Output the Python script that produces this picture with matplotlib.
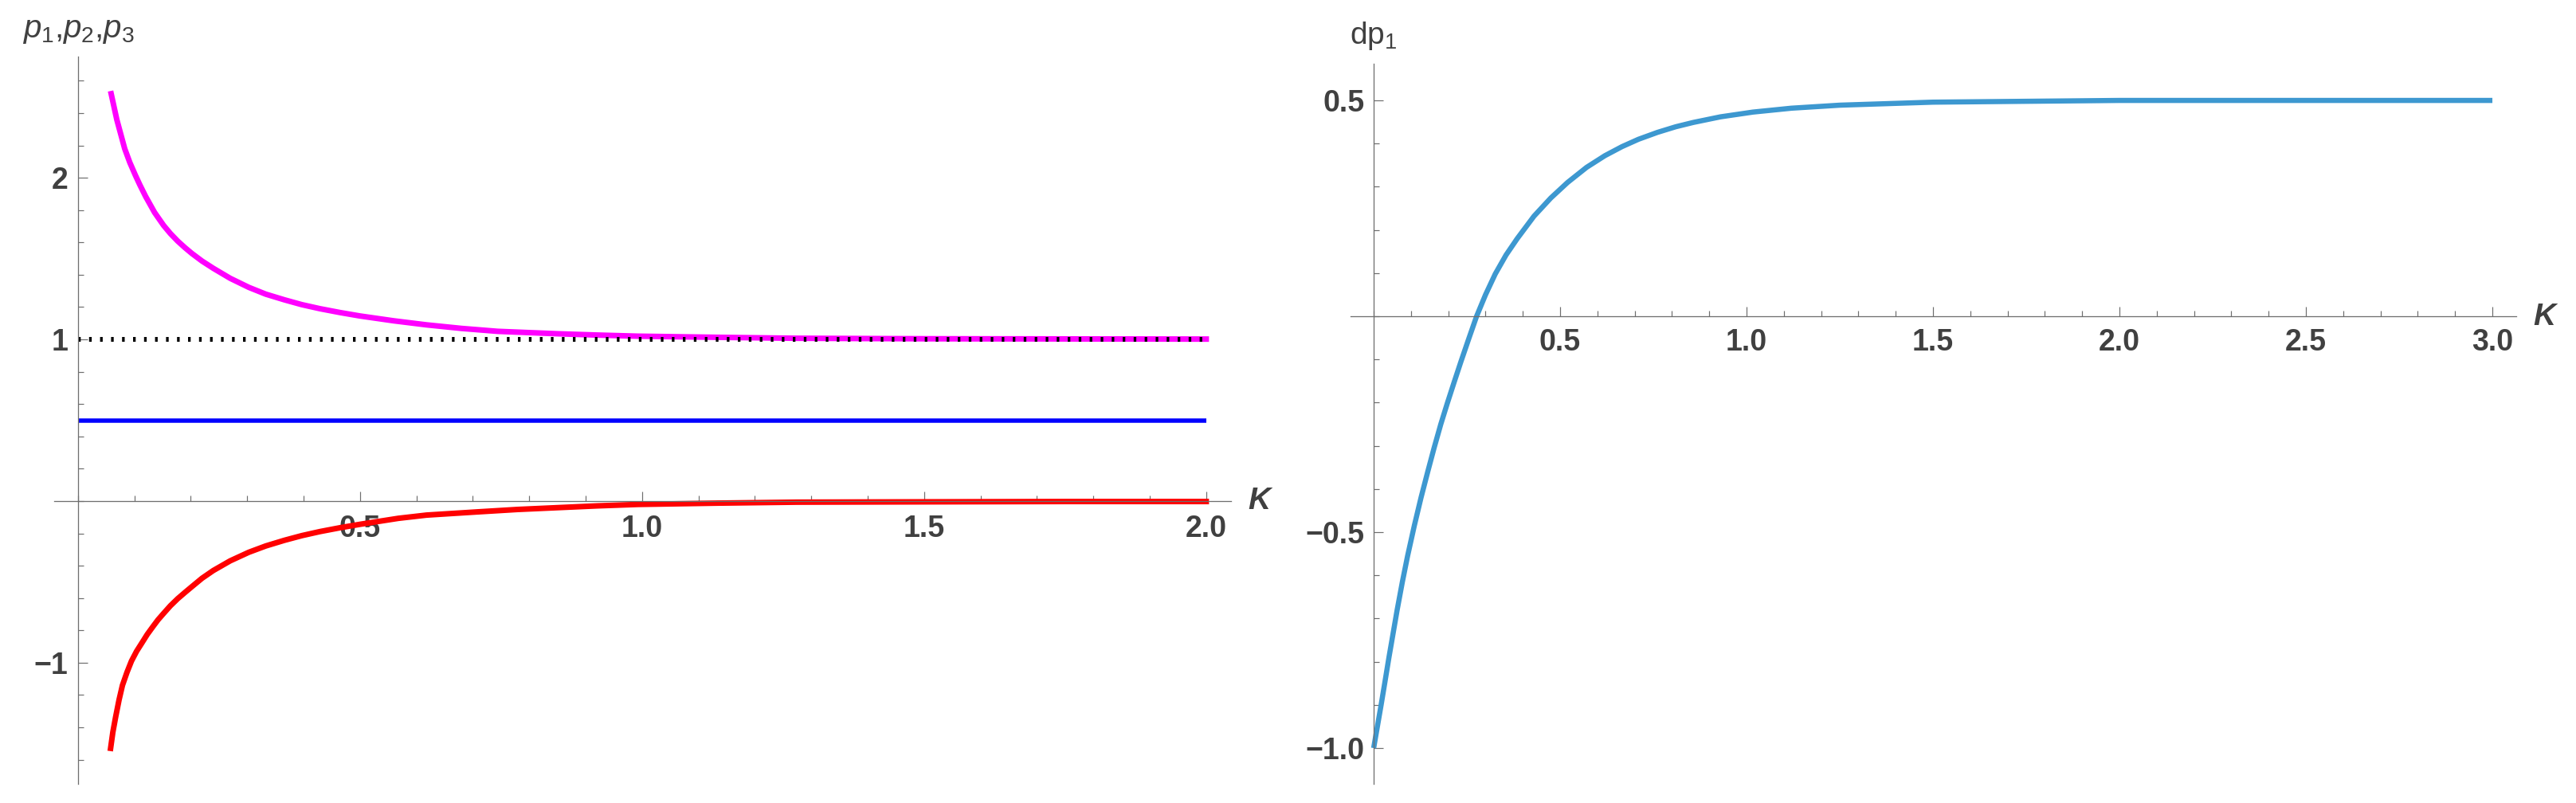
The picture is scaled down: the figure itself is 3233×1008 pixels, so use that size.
import numpy as np
import matplotlib.pyplot as plt
from matplotlib.ticker import FixedLocator, MultipleLocator

plt.rcParams['font.family'] = ['Liberation Sans', 'DejaVu Sans']
plt.rcParams['mathtext.fontset'] = 'custom'
plt.rcParams['mathtext.rm'] = 'Liberation Sans'
plt.rcParams['mathtext.it'] = 'Liberation Sans:italic'

# left panel: p1 (red), p2 (blue), p3 (magenta), dotted reference at 1
k_p1 = [0.058, 0.062, 0.067, 0.073, 0.079, 0.087, 0.095, 0.104, 0.114, 0.123,
        0.133, 0.142, 0.152, 0.164, 0.177, 0.19, 0.202, 0.22, 0.24, 0.27,
        0.303, 0.333, 0.366, 0.397, 0.429, 0.465, 0.5, 0.568, 0.618, 0.709,
        0.78, 0.85, 0.92, 0.992, 1.133, 1.274, 1.5, 1.75, 2.0]
p1 = [-1.53, -1.43, -1.335, -1.23, -1.14, -1.06, -0.99, -0.93, -0.875, -0.825,
      -0.777, -0.735, -0.695, -0.648, -0.604, -0.565, -0.53, -0.478, -0.43, -0.37,
      -0.317, -0.278, -0.243, -0.214, -0.189, -0.165, -0.144, -0.107, -0.087, -0.067,
      -0.052, -0.041, -0.03, -0.021, -0.013, -0.007, -0.005, -0.003, -0.003]

k_p3 = [0.059, 0.064, 0.069, 0.076, 0.083, 0.092, 0.102, 0.11, 0.12, 0.136,
        0.152, 0.164, 0.177, 0.19, 0.202, 0.22, 0.24, 0.27, 0.303, 0.333,
        0.366, 0.397, 0.429, 0.465, 0.5, 0.56, 0.618, 0.68, 0.744, 0.85,
        0.92, 0.992, 1.133, 1.274, 1.5, 2.0]
p3 = [2.52, 2.44, 2.36, 2.27, 2.18, 2.095, 2.015, 1.955, 1.885, 1.785,
      1.705, 1.655, 1.608, 1.567, 1.532, 1.485, 1.44, 1.378, 1.322, 1.28,
      1.245, 1.215, 1.19, 1.166, 1.145, 1.115, 1.09, 1.068, 1.05, 1.035,
      1.027, 1.02, 1.013, 1.007, 1.004, 1.002]

k_p2 = [0.0, 2.0]
p2 = [0.5, 0.5]

k_ref = [0.0, 2.0]
ref = [1.0, 1.0]

# right panel: dp1
k_dp = [0.0, 0.01, 0.02, 0.03, 0.041, 0.052, 0.063, 0.077, 0.091, 0.109,
        0.127, 0.145, 0.162, 0.18, 0.198, 0.216, 0.234, 0.255, 0.276, 0.3,
        0.326, 0.355, 0.385, 0.43, 0.475, 0.52, 0.571, 0.62, 0.666, 0.71,
        0.761, 0.81, 0.857, 0.93, 1.017, 1.12, 1.25, 1.5, 2.0, 2.5, 3.0]
dp1 = [-1.0, -0.95, -0.9, -0.848, -0.79, -0.735, -0.68, -0.615, -0.555, -0.485,
       -0.42, -0.36, -0.305, -0.25, -0.2, -0.152, -0.105, -0.052, 0.0, 0.05,
       0.098, 0.142, 0.18, 0.232, 0.274, 0.31, 0.345, 0.372, 0.393, 0.41,
       0.426, 0.439, 0.449, 0.462, 0.473, 0.482, 0.489, 0.496, 0.5, 0.5, 0.5]

left_xticks = [0.5, 1.0, 1.5, 2.0]
left_xlabels = ["0.5", "1.0", "1.5", "2.0"]
left_yticks = [-1, 1, 2]
left_ylabels = ["\u22121", "1", "2"]
right_xticks = [0.5, 1.0, 1.5, 2.0, 2.5, 3.0]
right_xlabels = ["0.5", "1.0", "1.5", "2.0", "2.5", "3.0"]
right_yticks = [-1.0, -0.5, 0.5]
right_ylabels = ["\u22121.0", "\u22120.5", "0.5"]

W, H = 3233, 1008
fig = plt.figure(figsize=(W / 100, H / 100), dpi=100)

axis_col = "#6e6e6e"
text_col = "#404040"
px = 72 / 100  # points per pixel


def style_axes(ax, xpad, ypad):
    for s in ["top", "right"]:
        ax.spines[s].set_visible(False)
    ax.spines["left"].set_position(("data", 0))
    ax.spines["bottom"].set_position(("data", 0))
    for s in ["left", "bottom"]:
        ax.spines[s].set_color(axis_col)
        ax.spines[s].set_linewidth(1.3 * px)
    ax.tick_params(which="both", direction="in", color=axis_col, width=1.2 * px,
                   labelcolor=text_col, labelsize=27)
    ax.tick_params(which="major", length=12 * px)
    ax.tick_params(which="minor", length=7 * px)
    ax.tick_params(axis="x", which="major", pad=xpad)
    ax.tick_params(axis="y", which="major", pad=ypad)
    for lab in ax.get_xticklabels() + ax.get_yticklabels():
        lab.set_fontweight("bold")
    ax.set_facecolor("none")


# left panel
ax1 = fig.add_axes([68 / W, 1 - 984 / H, (1545 - 68) / W, (984 - 71) / H])
ax1.plot(k_p2, p2, color="#0000ff", lw=5.5 * px, solid_capstyle="butt")
ax1.plot(k_p3, p3, color="#ff00ff", lw=7 * px, solid_joinstyle="round")
ax1.plot(k_ref, ref, color="black", lw=6 * px, linestyle=(0, (0.55, 1.75)))
ax1.plot(k_p1, p1, color="#ff0000", lw=7 * px, solid_joinstyle="round")
ax1.set_xlim(-0.042, 2.044)
ax1.set_ylim(-1.75, 2.75)
ax1.xaxis.set_major_locator(FixedLocator(left_xticks))
ax1.set_xticklabels(left_xlabels)
ax1.xaxis.set_minor_locator(MultipleLocator(0.1))
ax1.yaxis.set_major_locator(FixedLocator(left_yticks))
ax1.set_yticklabels(left_ylabels)
ax1.yaxis.set_minor_locator(MultipleLocator(0.2))
style_axes(ax1, 12, 9)

# right panel
ax2 = fig.add_axes([1695 / W, 1 - 984 / H, (3158 - 1695) / W, (984 - 80) / H])
ax2.plot(k_dp, dp1, color="#3d98d0", lw=6.5 * px, solid_capstyle="butt",
         solid_joinstyle="round")
ax2.set_xlim(-0.062, 3.064)
ax2.set_ylim(-1.083, 0.585)
ax2.xaxis.set_major_locator(FixedLocator(right_xticks))
ax2.set_xticklabels(right_xlabels)
ax2.xaxis.set_minor_locator(MultipleLocator(0.1))
ax2.yaxis.set_major_locator(FixedLocator(right_yticks))
ax2.set_yticklabels(right_ylabels)
ax2.yaxis.set_minor_locator(MultipleLocator(0.1))
style_axes(ax2, 11, 8)

# axis labels
fig.text(98 / W, 1 - 47 / H, r"$p_1$,$p_2$,$p_3$", ha="center", va="baseline",
         fontsize=29, color=text_col)
fig.text(1724 / W, 1 - 55 / H, r"$\mathrm{dp}_1$", ha="center", va="baseline",
         fontsize=28, color=text_col)
fig.text(1580 / W, 1 - 629 / H, "K", ha="center", va="center", fontsize=28,
         style="italic", fontweight="bold", color=text_col)
fig.text(3193 / W, 1 - 398 / H, "K", ha="center", va="center", fontsize=28,
         style="italic", fontweight="bold", color=text_col)

fig.savefig("out.png", dpi=100, facecolor="white")
